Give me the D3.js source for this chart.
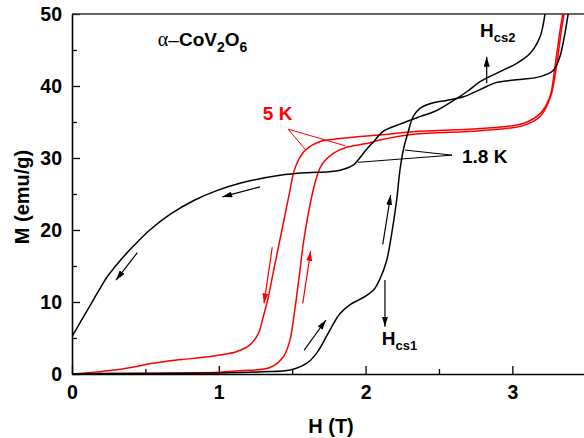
<!DOCTYPE html>
<html>
<head>
<meta charset="utf-8">
<script src="https://cdn.jsdelivr.net/npm/d3@7"></script>
<style>
  body { margin: 0; background: #fff; }
  svg { display: block; }
  text { font-family: "Liberation Sans", Arial, sans-serif; font-weight: bold; fill: #000; }
</style>
</head>
<body>
<svg id="chart" width="584" height="438"></svg>
<script>
// Magnetization loops of alpha-CoV2O6: [field H (T), magnetization M (emu/g)]
const sweepUp18K = [
  [0, 0.05], [0.5, 0.08], [1.0, 0.15], [1.3, 0.3], [1.485, 0.55], [1.6, 1.5],
  [1.667, 2.9], [1.757, 6.1], [1.826, 8.4], [1.9, 9.7], [2.0, 10.8], [2.06, 11.8],
  [2.1, 13.3], [2.144, 15.8], [2.178, 19.5], [2.212, 24.2], [2.234, 28.3],
  [2.257, 31.1], [2.29, 33.6], [2.325, 35.8], [2.37, 36.9], [2.45, 37.6],
  [2.55, 38.0], [2.666, 38.5], [2.78, 39.5], [2.893, 40.5], [3.05, 40.9],
  [3.19, 41.3], [3.28, 42.2], [3.324, 44.1], [3.358, 47.3], [3.38, 50]
];
const sweepDown18K = [
  [0, 5.2], [0.06, 7.3], [0.12, 9.4], [0.18, 11.5], [0.24, 13.5], [0.33, 15.8],
  [0.42, 17.8], [0.53, 20.0], [0.67, 22.2], [0.83, 24.1], [0.99, 25.5],
  [1.144, 26.5], [1.417, 27.6], [1.6, 27.96], [1.75, 28.1],
  [1.826, 28.3], [1.916, 29.0], [1.96, 30.0], [2.007, 31.2], [2.052, 32.2],
  [2.12, 33.7], [2.234, 34.7], [2.35, 35.6], [2.484, 36.6], [2.6, 38.0],
  [2.69, 39.2], [2.78, 40.6], [2.916, 42.0], [3.03, 43.15], [3.12, 44.5],
  [3.188, 46.8], [3.222, 50]
];
const sweepUp5K = [
  [0, 0.05], [0.5, 0.1], [1.0, 0.25], [1.144, 0.45], [1.349, 0.9], [1.44, 2.4],
  [1.485, 4.7], [1.508, 7.5], [1.53, 10.7], [1.553, 14.4], [1.576, 18.15],
  [1.61, 22.3], [1.655, 26.5], [1.7, 29], [1.78, 30.65], [1.87, 31.5],
  [2.007, 32.0], [2.098, 32.5], [2.325, 33.3], [2.78, 33.8], [3.074, 34.5],
  [3.19, 35.8], [3.26, 38.5], [3.3, 42.7], [3.333, 47.6], [3.352, 50]
];
const sweepDown5K = [
  [0, 0], [0.19, 0.32], [0.37, 0.79], [0.55, 1.49], [0.668, 1.85], [0.826, 2.17],
  [1.008, 2.64], [1.12, 3.1], [1.21, 4.0], [1.27, 5.65], [1.303, 7.96],
  [1.33, 10.0], [1.37, 14], [1.41, 18], [1.45, 22], [1.485, 25.5], [1.51, 28],
  [1.545, 29.8], [1.59, 31.1], [1.69, 32.3], [1.826, 32.7], [1.96, 33.0],
  [2.098, 33.2], [2.325, 33.65], [2.78, 34.1], [3.074, 34.8], [3.19, 36.2],
  [3.256, 38.5], [3.29, 42.7], [3.324, 47.6], [3.343, 50]
];

// Sweep-direction arrows: [H0, M0, H1, M1], head at the second point
const arrows18K = [
  [1.281, 26.0, 1.024, 24.6],
  [0.445, 16.85, 0.300, 13.05],
  [1.582, 3.33, 1.730, 7.5],
  [2.117, 18.0, 2.171, 24.86],
  [2.132, 13.05, 2.132, 6.57],
  [2.825, 40.4, 2.825, 44.07]
];
const arrows5K = [
  [1.364, 17.6, 1.308, 9.8],
  [1.572, 9.8, 1.626, 17.1]
];

// Label leader lines (through the vertex next to each label)
const leader18K = [[2.268, 31.1], [2.589, 30.4], [1.948, 29.4]];
const leader5K = [[1.587, 31.25], [1.473, 34.0], [1.86, 31.7]];

// Axis ticks
const xMajor = [0, 1, 2, 3];
const xMinor = [0.5, 1.5, 2.5];
const yMajor = [0, 10, 20, 30, 40, 50];
const yMinor = [5, 15, 25, 35, 45];

const W = 584, H = 438;
const margin = { left: 72, top: 14, right: 0, bottom: 64 };
const svg = d3.select("#chart");

const x = d3.scaleLinear().domain([0, 3.488]).range([margin.left, W - margin.right]);
const y = d3.scaleLinear().domain([0, 50]).range([H - margin.bottom, margin.top]);

svg.append("defs").append("clipPath").attr("id", "plot-clip")
  .append("rect")
  .attr("x", margin.left).attr("y", margin.top)
  .attr("width", W - margin.left - margin.right)
  .attr("height", H - margin.top - margin.bottom);

["black", "red"].forEach(c => {
  svg.select("defs").append("marker")
    .attr("id", "head-" + c)
    .attr("viewBox", "0 0 10 6")
    .attr("refX", 10).attr("refY", 3)
    .attr("markerUnits", "userSpaceOnUse")
    .attr("markerWidth", 10).attr("markerHeight", 6)
    .attr("orient", "auto")
    .append("path").attr("d", "M0,0 L10,3 L0,6 Z").attr("fill", c);
});

// Axes with inward ticks
svg.append("g").attr("transform", `translate(0,${y(0)})`)
  .call(d3.axisBottom(x).tickValues(xMajor).tickFormat(d3.format("d"))
    .tickSize(-8).tickSizeOuter(0).tickPadding(11));
svg.append("g").attr("transform", `translate(0,${y(0)})`)
  .call(d3.axisBottom(x).tickValues(xMinor).tickFormat("").tickSize(-5).tickSizeOuter(0))
  .select(".domain").remove();
svg.append("g").attr("transform", `translate(${x(0)},0)`)
  .call(d3.axisLeft(y).tickValues(yMajor).tickFormat(d3.format("d"))
    .tickSize(-8).tickSizeOuter(0).tickPadding(10));
svg.append("g").attr("transform", `translate(${x(0)},0)`)
  .call(d3.axisLeft(y).tickValues(yMinor).tickFormat("").tickSize(-5).tickSizeOuter(0))
  .select(".domain").remove();

svg.selectAll(".tick line").attr("stroke", "#000").attr("stroke-width", 1.3);
svg.selectAll(".domain").attr("stroke", "#000").attr("stroke-width", 1.6);
svg.selectAll(".tick text").style("font-size", "19.5px").style("font-weight", "bold")
  .style("font-family", "'Liberation Sans', Arial, sans-serif").attr("fill", "#000");

// top frame line
svg.append("line")
  .attr("x1", x(0)).attr("x2", W).attr("y1", y(50)).attr("y2", y(50))
  .attr("stroke", "#333").attr("stroke-width", 1.6);

// Axis titles
svg.append("text").attr("x", 331).attr("y", 433).attr("text-anchor", "middle")
  .style("font-size", "20px").text("H (T)");
svg.append("text").attr("transform", "translate(28.5,197) rotate(-90)")
  .attr("text-anchor", "middle").style("font-size", "20px").text("M (emu/g)");

// Loops
const line = d3.line().x(d => x(d[0])).y(d => y(d[1])).curve(d3.curveCatmullRom.alpha(0.5));
const plot = svg.append("g").attr("clip-path", "url(#plot-clip)");
[[sweepUp5K, "#ff0000"], [sweepDown5K, "#ff0000"], [sweepUp18K, "#000"], [sweepDown18K, "#000"]]
  .forEach(([data, color]) => {
    plot.append("path").datum(data).attr("d", line)
      .attr("fill", "none").attr("stroke", color).attr("stroke-width", 1.5)
      .attr("stroke-linejoin", "round");
  });

// Arrows
function drawArrows(list, color, id) {
  svg.append("g").selectAll("line").data(list).join("line")
    .attr("x1", d => x(d[0])).attr("y1", d => y(d[1]))
    .attr("x2", d => x(d[2])).attr("y2", d => y(d[3]))
    .attr("stroke", color).attr("stroke-width", 1.2)
    .attr("marker-end", `url(#head-${id})`);
}
drawArrows(arrows18K, "#000", "black");
drawArrows(arrows5K, "#ff0000", "red");

// Leader lines
const straight = d3.line().x(d => x(d[0])).y(d => y(d[1]));
svg.append("path").datum(leader18K).attr("d", straight)
  .attr("fill", "none").attr("stroke", "#000").attr("stroke-width", 1);
svg.append("path").datum(leader5K).attr("d", straight)
  .attr("fill", "none").attr("stroke", "#ff0000").attr("stroke-width", 1);

// Labels
svg.append("text").attr("x", x(2.657)).attr("y", y(29.3)).style("font-size", "19px").text("1.8 K");
svg.append("text").attr("x", x(1.30)).attr("y", y(35.3)).style("font-size", "19px")
  .style("fill", "#ff0000").text("5 K");

function subLabel(h, m, main, sub) {
  const t = svg.append("text").attr("x", x(h)).attr("y", y(m)).style("font-size", "19px");
  t.append("tspan").text(main);
  t.append("tspan").attr("dy", 5).style("font-size", "13px").text(sub);
}
subLabel(2.11, 4.0, "H", "cs1");
subLabel(2.78, 46.85, "H", "cs2");

const title = svg.append("text").attr("x", x(0.585)).attr("y", y(45.5)).style("font-size", "19px");
title.append("tspan").style("font-family", "'Liberation Serif', 'Times New Roman', serif")
  .style("font-weight", "normal").style("font-size", "20px").text("α");
title.append("tspan").style("font-weight", "normal").text("–");
title.append("tspan").text("CoV");
title.append("tspan").attr("dy", 6).style("font-size", "14px").text("2");
title.append("tspan").attr("dy", -6).text("O");
title.append("tspan").attr("dy", 6).style("font-size", "14px").text("6");
</script>
</body>
</html>
